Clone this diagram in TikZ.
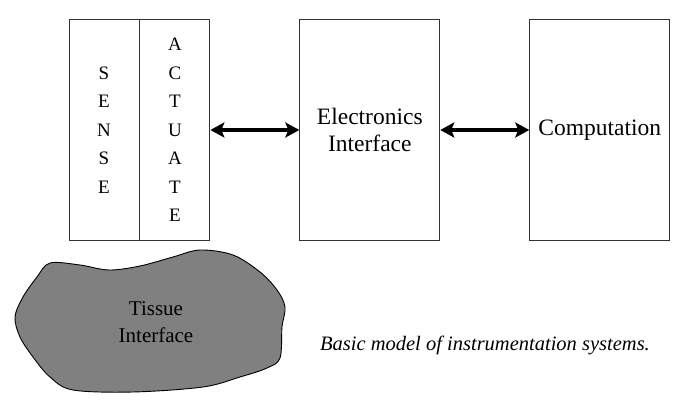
\documentclass[tikz,border=0pt]{standalone}
\usepackage{fontspec}
\setmainfont{Liberation Serif}
\usetikzlibrary{arrows.meta,positioning}

\begin{document}
\begin{tikzpicture}
            [x=1pt,y=-1pt,
             block/.style={draw=black!80,line width=0.9pt,minimum width=140pt,minimum height=221pt,inner sep=0pt,align=center,font=\fontsize{23.5}{27}\selectfont},
             half block/.style={block,minimum width=70pt,font=\fontsize{19}{28.5}\selectfont},
             link/.style={line width=3.4pt,{Stealth[length=14pt,width=15pt,inset=3pt]}-{Stealth[length=14pt,width=15pt,inset=3pt]}},
             tissue fill/.style={draw=black,line width=0.9pt,fill=gray}]
            \useasboundingbox (0,0) rectangle (681,409);
            \node[half block] (sense) at (104,130) {S\\E\\N\\S\\E};
            \node[half block, right=0pt of sense] (actuate) {A\\C\\T\\U\\A\\T\\E};
            \node[block, right=89pt of actuate] (electronics) {Electronics\\Interface};
            \node[block, right=89pt of electronics] (computation) {Computation};
            \draw[link] (actuate) -- (electronics);
            \draw[link] (electronics) -- (computation);
            \draw[tissue fill] plot[smooth cycle, tension=0.55] coordinates {(50,263) (80,265) (109,270) (140,266) (173,257) (200,250) (233,255) (260,272) (277,290) (285,307) (282,327) (280,358) (267,368) (240,377) (203,387) (133,392) (73,390) (50,377) (33,357) (20,337) (15,317) (23,297) (37,277)};
            \node[align=center, font=\fontsize{21}{27}\selectfont] (tissue) at (156,322) {Tissue\\Interface};
            \node[anchor=base, font=\fontsize{20.5}{24}\selectfont\itshape] (caption) at (485,350) {Basic model of instrumentation systems.};
            \end{tikzpicture}
\end{document}
